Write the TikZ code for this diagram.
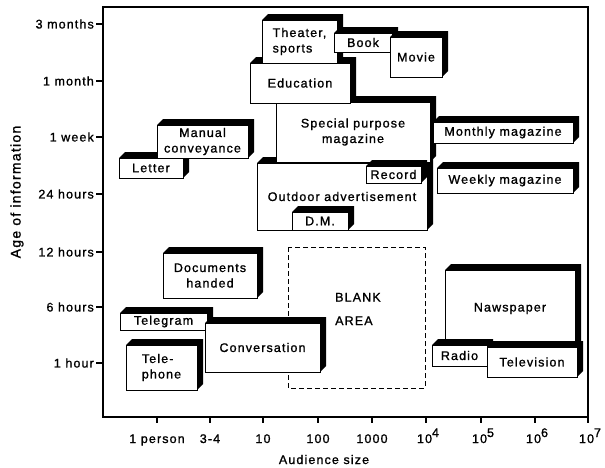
\documentclass[tikz,border=0pt]{standalone}
\usepackage{fontspec}
\setmainfont[LetterSpace=9, FakeBold=1.2]{Liberation Sans}
\begin{document}
\newcommand\blockbox[7][]{%
  \fill[black] (#3,#4) -- ({#3+6},{#4-6}) -- ({#5+6},{#4-6}) -- ({#5+6},{#6-6}) -- (#5,#6) -- cycle;
  \node[blk, minimum width={(#5-#3)*1pt}, minimum height={(#6-#4)*1pt}, #1] (#2) at ({(#3+#5)/2},{(#4+#6)/2}) {#7};}
\begin{tikzpicture}[x=1pt,y=-1pt,
  every node/.style={font=\fontsize{12.5}{15.5}\selectfont, inner sep=0pt},
  blk/.style={draw=black, line width=0.8pt, fill=white, align=center},
  tk/.style={line width=1.3pt},
  ylab/.style={anchor=east},
  xlab/.style={anchor=base}]
\useasboundingbox (0,0) rectangle (605,467);
% frame
\draw[line width=1.6pt] (103,7) rectangle (588,417);
% y ticks
\foreach \y in {24,81,137,194,252,307,363} \draw[tk] (96,\y) -- (103,\y);
\node[ylab] (y1) at (94,24) {3 months};
\node[ylab] (y2) at (94,81) {1 month};
\node[ylab] (y3) at (94,137) {1 week};
\node[ylab] (y4) at (94,194) {24 hours};
\node[ylab] (y5) at (94,252) {12 hours};
\node[ylab] (y6) at (94,307) {6 hours};
\node[ylab] (y7) at (94,363) {1 hour};
% x ticks
\foreach \x in {157,210,263,318,372,426,481,535,588} \draw[tk] (\x,417) -- (\x,423);
\node[xlab] (x1) at (157,443) {1 person};
\node[xlab] (x2) at (210,443) {3-4};
\node[xlab] (x3) at (263,443) {10};
\node[xlab] (x4) at (318,443) {100};
\node[xlab] (x5) at (372,443) {1000};
\node[xlab] (x6) at (428,443) {10\raisebox{6pt}{4}};
\node[xlab] (x7) at (483,443) {10\raisebox{6pt}{5}};
\node[xlab] (x8) at (537,443) {10\raisebox{6pt}{6}};
\node[xlab] (x9) at (590,443) {10\raisebox{6pt}{7}};
\node[xlab] (xt) at (324,464) {Audience size};
\node[rotate=90, font=\fontsize{14}{16}\selectfont] (yt) at (17,192) {Age of information};
% blank area
\draw[line width=1pt, dash pattern=on 5pt off 3pt] (288,247) rectangle (425,388);
\node[anchor=west, align=left] (blank) at (335,309) {BLANK\\[8pt]AREA};
% boxes
\blockbox{outdoor}{257}{163}{427}{230}{Outdoor advertisement}
\blockbox{special}{276}{102}{430}{162}{Special purpose\\magazine}
\blockbox{education}{250}{63}{350}{103}{Education}
\blockbox[align=left]{theater}{262}{20}{337}{63}{Theater,\\sports}
\blockbox{book}{334}{33}{392}{52}{Book}
\blockbox{movie}{390}{37}{442}{77}{Movie}
\blockbox{record}{366}{166}{421}{183}{Record}
\blockbox{dm}{292}{212}{348}{230}{D.M.}
\blockbox{monthly}{433}{122}{573}{143}{Monthly magazine}
\blockbox{weekly}{437}{168}{573}{193}{Weekly magazine}
\blockbox{letter}{119}{158}{183}{178}{Letter}
\blockbox{manual}{157}{125}{248}{158}{Manual\\conveyance}
\blockbox{docs}{163}{253}{257}{298}{Documents\\handed}
\blockbox{telegram}{120}{313}{207}{330}{Telegram}
\blockbox{conv}{205}{323}{320}{372}{Conversation}
\blockbox[align=left]{phone}{126}{345}{197}{390}{Tele-\\phone}
\blockbox{news}{445}{270}{575}{347}{Nawspaper}
\blockbox{radio}{432}{345}{487}{366}{Radio}
\blockbox{tv}{487}{347}{577}{377}{Television}
\end{tikzpicture}
\end{document}
